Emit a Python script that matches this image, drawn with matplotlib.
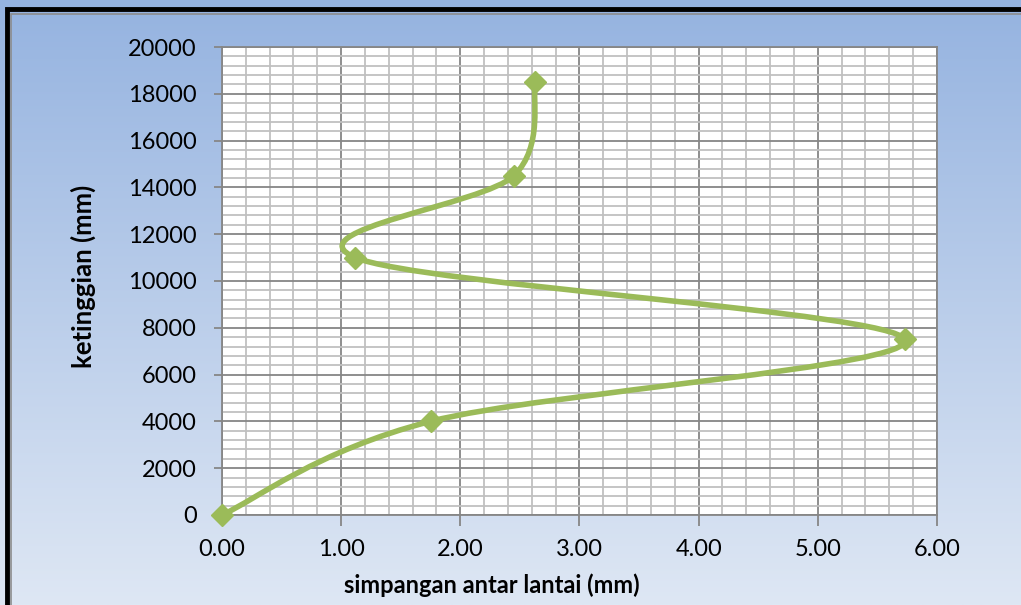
import matplotlib
matplotlib.use("Agg")
import matplotlib.pyplot as plt
import numpy as np
from matplotlib.path import Path
from matplotlib.patches import PathPatch, Rectangle
from matplotlib.ticker import MultipleLocator

# data
simpangan = [0.00, 1.75, 5.73, 1.12, 2.45, 2.63]
ketinggian = [0, 4000, 7500, 11000, 14500, 18500]

green = "#9BBB59"
major_grid = "#868686"
minor_grid = "#C0C0C0"

plt.rcParams["font.family"] = ["Lato", "DejaVu Sans"]

fig = plt.figure(figsize=(10.21, 6.05), dpi=100)

# gradient background of the chart area
bg = fig.add_axes([0, 0, 1, 1])
top = np.array([149, 179, 224]) / 255
bot = np.array([222, 231, 244]) / 255
t = np.linspace(0, 1, 256)[:, None]
grad = top * (1 - t) + bot * t
bg.imshow(grad[:, None, :].repeat(2, axis=1), aspect="auto", extent=[0, 1, 0, 1])
bg.set_xlim(0, 1)
bg.set_ylim(0, 1)
bg.axis("off")
# outer frame
bg.add_patch(Rectangle((0.0065, -0.05), 1.1, 1.035, fill=False, edgecolor="black",
                       linewidth=3.5, transform=bg.transAxes, clip_on=False))
bg.add_patch(Rectangle((0.011, -0.05), 1.1, 1.027, fill=False, edgecolor="#8C8C8C",
                       linewidth=1.2, transform=bg.transAxes, clip_on=False))

ax = fig.add_axes([0.2174, 0.1488, 0.7003, 0.7735])
ax.set_facecolor("white")
ax.set_xlim(0, 6)
ax.set_ylim(0, 20000)
ax.xaxis.set_major_locator(MultipleLocator(1))
ax.xaxis.set_minor_locator(MultipleLocator(0.2))
ax.yaxis.set_major_locator(MultipleLocator(2000))
ax.yaxis.set_minor_locator(MultipleLocator(400))
ax.grid(which="minor", color=minor_grid, linewidth=1.3)
ax.grid(which="major", color=major_grid, linewidth=1.3)
ax.set_axisbelow(True)
for s in ax.spines.values():
    s.set_color(major_grid)
    s.set_linewidth(1.3)
ax.tick_params(which="major", length=6, width=1.3, color=major_grid, labelsize=17)
ax.tick_params(axis="x", which="major", length=8, pad=9)
ax.tick_params(axis="y", which="major", pad=12)
ax.tick_params(which="minor", length=0)
ax.set_xticklabels([f"{v:.2f}" for v in ax.get_xticks()])

# smoothed line (catmull-rom style bezier like excel)
pts = np.column_stack([simpangan, ketinggian]).astype(float)
n = len(pts)
verts = [pts[0]]
codes = [Path.MOVETO]
for i in range(n - 1):
    p0 = pts[i - 1] if i > 0 else pts[i]
    p1 = pts[i]
    p2 = pts[i + 1]
    p3 = pts[i + 2] if i + 2 < n else pts[i + 1]
    c1 = p1 + (p2 - p0) / 6
    c2 = p2 - (p3 - p1) / 6
    verts += [c1, c2, p2]
    codes += [Path.CURVE4] * 3
ax.add_patch(PathPatch(Path(verts, codes), facecolor="none", edgecolor=green,
                       linewidth=4, capstyle="round", joinstyle="round", zorder=3))
ax.plot(simpangan, ketinggian, linestyle="none", marker="D", markersize=11,
        color=green, zorder=4, clip_on=False)

ax.set_xlabel("simpangan antar lantai (mm)", fontsize=17, fontweight="bold", va="center")
ax.set_ylabel("ketinggian (mm)", fontsize=18.5, fontweight="bold", va="center")
ax.xaxis.set_label_coords(0.378, -0.1496)
ax.yaxis.set_label_coords(-0.194, 0.51)

fig.savefig("out.png", dpi=100)
